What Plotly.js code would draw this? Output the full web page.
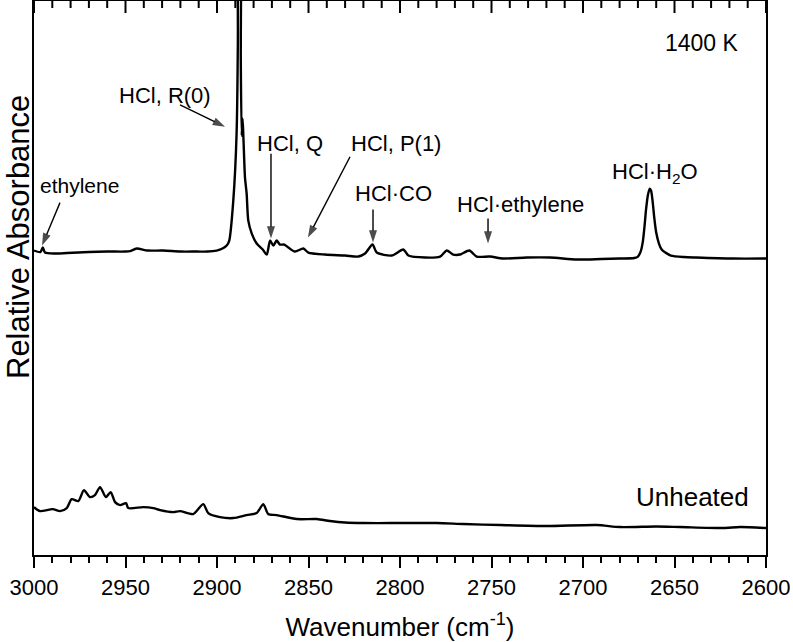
<!DOCTYPE html>
<html>
<head>
<meta charset="utf-8">
<script src="https://cdn.plot.ly/plotly-3.0.1.min.js"></script>
<style>
  html, body { margin: 0; padding: 0; background: #fff; overflow: hidden; }
  #chart { width: 793px; height: 642px; }
</style>
</head>
<body>
<div id="chart"></div>
<script>
// Wavenumber (cm^-1) and relative absorbance
const heatedWavenumber = [3000, 2996.5, 2995.2, 2994, 2988.5, 2982, 2970, 2960, 2950, 2947.5, 2943.9, 2938,
  2929.5, 2920, 2911, 2905, 2900.2, 2897, 2894.7, 2893.3, 2891.1, 2889.3, 2888.6, 2888.1, 2887.5, 2887.0,
  2886.5, 2886.0, 2885.5, 2884.7, 2883.8, 2882.9, 2881, 2878.3, 2875, 2872.8, 2871, 2869.2, 2867.4, 2865.6,
  2863.2, 2861, 2857.4, 2852.8, 2850.1, 2841, 2830, 2822.8, 2819.1, 2815, 2812.7, 2804.5, 2798.2, 2795.4,
  2786.3, 2778.1, 2774.5, 2770.9, 2767.2, 2762.1, 2758.1, 2750.8, 2743.5, 2730.8, 2718, 2703.4, 2690,
  2679.8, 2672, 2670, 2668.5, 2667.3, 2666.4, 2665.5, 2664.5, 2663.5, 2662.8, 2662, 2661, 2660, 2658.5,
  2657, 2655, 2652, 2645, 2638.1, 2618.1, 2600];
const heatedAbsorbance = [3.05, 3.035, 3.08, 3.03, 3.02, 3.025, 3.035, 3.04, 3.04, 3.045, 3.07, 3.05,
  3.05, 3.04, 3.04, 3.04, 3.05, 3.07, 3.10, 3.15, 3.55, 4.22, 5.15, 8.5, 8.5, 4.95,
  4.20, 4.37, 4.15, 3.78, 3.62, 3.35, 3.22, 3.12, 3.06, 3.01, 3.15, 3.10, 3.15, 3.11,
  3.11, 3.08, 3.04, 3.07, 3.03, 3.01, 3.00, 2.99, 3.02, 3.11, 3.03, 3.00, 3.06, 3.00,
  2.98, 2.99, 3.05, 3.01, 3.01, 3.05, 2.99, 2.99, 2.97, 2.98, 2.98, 2.96, 2.965,
  2.97, 2.975, 2.99, 3.04, 3.14, 3.29, 3.47, 3.61, 3.67, 3.65, 3.55, 3.37, 3.23, 3.12,
  3.06, 3.03, 3.00, 2.985, 2.98, 2.97, 2.97];

const unheatedWavenumber = [3000, 2996.7, 2989.8, 2985.8, 2982.1, 2979.4, 2975.8, 2972.7, 2969.4, 2966.7,
  2963.9, 2960.7, 2958.1, 2955.7, 2953, 2949.7, 2948.5, 2940.3, 2934.8, 2931.1, 2923.9, 2920.2, 2913,
  2907.5, 2904.8, 2898.4, 2891.1, 2883.8, 2878.3, 2874.7, 2872, 2867.4, 2856.4, 2845.5, 2838.3, 2830, 2820,
  2805.5, 2780, 2765.4, 2745, 2719.8, 2692.5, 2679.8, 2660, 2647, 2623.4, 2614.2, 2600];
const unheatedAbsorbance = [0.48, 0.44, 0.46, 0.44, 0.47, 0.56, 0.54, 0.65, 0.58, 0.60,
  0.68, 0.58, 0.63, 0.53, 0.50, 0.52, 0.47, 0.48, 0.47, 0.45, 0.43, 0.44, 0.41,
  0.51, 0.42, 0.38, 0.37, 0.40, 0.42, 0.51, 0.41, 0.40, 0.36, 0.36, 0.34, 0.325, 0.32,
  0.32, 0.32, 0.31, 0.30, 0.29, 0.30, 0.28, 0.285, 0.28, 0.27, 0.28, 0.27];

const xTickValues = [3000, 2950, 2900, 2850, 2800, 2750, 2700, 2650, 2600];
const xTickLabels = ['3000', '2950', '2900', '2850', '2800', '2750', '2700', '2650', '2600'];
const xMinorStep = 10;

// Peak labels: text, label position (wavenumber, absorbance)
const peakLabels = ['ethylene', 'HCl, R(0)', 'HCl, Q', 'HCl, P(1)', 'HCl·CO', 'HCl·ethylene', 'HCl·H<sub>2</sub>O'];
const labelWavenumber = [2974.9, 2928.4, 2860.1, 2802.2, 2803.8, 2733.9, 2660.7];
const labelAbsorbance = [3.70, 4.60, 4.12, 4.12, 3.62, 3.51, 3.83];
const labelSize = [21, 22, 22, 22, 22, 22, 22];

// Arrows: tail and head (wavenumber, absorbance)
const arrowTailWavenumber = [2985.8, 2920.2, 2870.5, 2827.3, 2814.75, 2751.9];
const arrowTailAbsorbance = [3.53, 4.51, 4.02, 3.99, 3.46, 3.37];
const arrowHeadWavenumber = [2995.6, 2895.6, 2870.5, 2850.3, 2814.75, 2751.9];
const arrowHeadAbsorbance = [3.10, 4.29, 3.17, 3.18, 3.13, 3.12];

const seriesNames = ['1400 K', 'Unheated'];
const seriesLabelWavenumber = [2635, 2640];
const seriesLabelAbsorbance = [5.13, 0.58];
const seriesLabelSize = [23, 26];

const FONT = 'Liberation Sans, Arial, sans-serif';
const W = 793, H = 642, M = { l: 34, r: 27, t: 1, b: 87 };
const plotH = H - M.t - M.b;

const traces = [
  { x: heatedWavenumber, y: heatedAbsorbance, type: 'scatter', mode: 'lines',
    line: { color: '#000', width: 2.4, shape: 'spline', smoothing: 0.7 }, name: seriesNames[0], showlegend: false, hoverinfo: 'skip' },
  { x: unheatedWavenumber, y: unheatedAbsorbance, type: 'scatter', mode: 'lines',
    line: { color: '#000', width: 2.4, shape: 'spline', smoothing: 0.7 }, name: seriesNames[1], showlegend: false, hoverinfo: 'skip' }
];

for (let i = 0; i < arrowTailWavenumber.length; i++) {
  traces.push({
    x: [arrowTailWavenumber[i], arrowHeadWavenumber[i]],
    y: [arrowTailAbsorbance[i], arrowHeadAbsorbance[i]],
    type: 'scatter', mode: 'lines+markers', showlegend: false, hoverinfo: 'skip', cliponaxis: false,
    line: { color: '#000', width: 1.4 },
    marker: { symbol: 'arrow', angleref: 'previous', size: [0, 13], color: '#000', line: { width: 0 } }
  });
}

// Inward ticks along the top frame, from the same tick values as the bottom axis
const shapes = [];
const xStart = xTickValues[0], xEnd = xTickValues[xTickValues.length - 1];
for (let v = xStart; v >= xEnd; v -= xMinorStep) {
  const isMajor = xTickValues.indexOf(v) >= 0;
  const len = isMajor ? 12 : 7;
  shapes.push({ type: 'line', xref: 'x', yref: 'paper', layer: 'above', x0: v, x1: v, y0: 1, y1: 1 - len / plotH,
    line: { color: '#000', width: 2 } });
}

const annotations = [];
for (let i = 0; i < peakLabels.length; i++) {
  annotations.push({ x: labelWavenumber[i], y: labelAbsorbance[i], xref: 'x', yref: 'y',
    text: peakLabels[i], showarrow: false, font: { family: FONT, size: labelSize[i], color: '#000' } });
}
for (let i = 0; i < seriesNames.length; i++) {
  annotations.push({ x: seriesLabelWavenumber[i], y: seriesLabelAbsorbance[i], xref: 'x', yref: 'y',
    text: seriesNames[i], showarrow: false, font: { family: FONT, size: seriesLabelSize[i], color: '#000' } });
}
// y-axis title
annotations.push({ x: (18 - M.l) / (W - M.l - M.r), y: 0.574, xref: 'paper', yref: 'paper', xanchor: 'center', yanchor: 'middle',
  textangle: -90, text: 'Relative Absorbance', showarrow: false, font: { family: FONT, size: 31, color: '#000' } });

const layout = {
  width: W, height: H,
  margin: M,
  paper_bgcolor: '#fff', plot_bgcolor: '#fff',
  font: { family: FONT, color: '#000' },
  showlegend: false,
  xaxis: {
    range: [xStart, xEnd], tickvals: xTickValues, ticktext: xTickLabels,
    ticks: 'outside', ticklen: 11, tickwidth: 2, tickcolor: '#000',
    minor: { dtick: xMinorStep, ticks: 'outside', ticklen: 6, tickwidth: 2, tickcolor: '#000' },
    showline: true, linewidth: 2.2, linecolor: '#000', mirror: true,
    showgrid: false, zeroline: false,
    tickfont: { family: FONT, size: 22, color: '#000' },
    title: { text: 'Wavenumber (cm<sup>-1</sup>)', font: { family: FONT, size: 26, color: '#000' }, standoff: 26 }
  },
  yaxis: {
    range: [0, 5.55], showticklabels: false, ticks: '',
    showline: true, linewidth: 2.2, linecolor: '#000', mirror: true,
    showgrid: false, zeroline: false
  },
  shapes: shapes,
  annotations: annotations
};

Plotly.newPlot('chart', traces, layout, { displayModeBar: false, staticPlot: true });
</script>
</body>
</html>
